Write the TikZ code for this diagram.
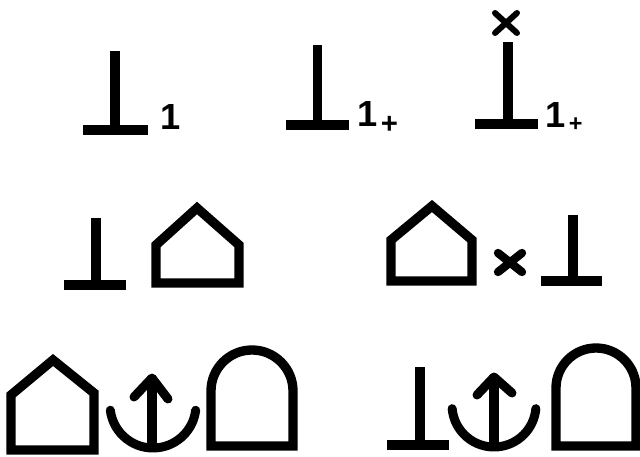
\documentclass[tikz,border=0pt]{standalone}
\usepackage{fontspec}
\setsansfont{Liberation Sans}
\usetikzlibrary{positioning}
\tikzset{
  stroke/.style={line width=0.28cm, line cap=butt, line join=miter},
  crossline/.style={line width=0.18cm, line cap=round},
  anchorline/.style={line width=0.27cm, line cap=round, line join=round},
  lab/.style={font=\sffamily\bfseries\fontsize{31}{31}\selectfont, inner sep=0pt, anchor=base west}
}

\begin{document}
\begin{tikzpicture}[x=0.03cm, y=-0.03cm]
    \clip (0,0) rectangle (640,457);
    \fill[white] (0,0) rectangle (640,457);

    % row 1: perp with label 1
    \draw[stroke] (115,51) -- (115,130);
    \draw[stroke] (83,130) -- (148,130);
    \node[lab] (lone) at (160,130) {1};

    % row 1: perp with label 1+
    \draw[stroke] (317.5,45) -- (317.5,125);
    \draw[stroke] (286,125) -- (349,125);
    \node[lab] (ltwo) at (357,127) {1\kern3pt\raisebox{-0.2cm}{\fontsize{25}{25}\selectfont +}};

    % row 1: perp with cross on top and label 1+
    \draw[crossline] (495,13) -- (517,33);
    \draw[crossline] (495,33) -- (517,13);
    \draw[stroke] (508,42) -- (508,124);
    \draw[stroke] (475,124) -- (538,124);
    \node[lab] (lthree) at (545,128) {1\kern3pt\raisebox{-0.12cm}{\fontsize{20}{20}\selectfont +}};

    % row 2: perp and house
    \draw[stroke] (96,218) -- (96,285);
    \draw[stroke] (64,285) -- (126,285);
    \draw[stroke] (156,283) -- (156,245) -- (197,208) -- (239,245) -- (239,283) -- cycle;

    % row 2: house, cross, perp
    \draw[stroke] (391,281) -- (391,240) -- (432,206) -- (472,240) -- (472,281) -- cycle;
    \draw[crossline, line width=0.25cm] (498,253) -- (522,272);
    \draw[crossline, line width=0.25cm] (498,272) -- (522,253);
    \draw[stroke] (573,215) -- (573,281);
    \draw[stroke] (541,281) -- (602,281);

    % row 3: house, anchor, arch
    \draw[stroke] (11,450) -- (11,395) -- (53,360) -- (94,393) -- (94,450) -- cycle;
    \draw[anchorline] (153,405) ++(173:43) arc (173:7:43);
    \draw[stroke] (152,449) -- (152,380);
    \draw[anchorline] (134,397) -- (152,378) -- (168,399);
    \draw[stroke] (211,446) -- (211,391) arc (180:360:41) -- (293,446) -- cycle;

    % row 3: perp, anchor, arch
    \draw[stroke] (420,367) -- (420,445);
    \draw[stroke] (387,445) -- (449,445);
    \draw[anchorline] (494,405) ++(175:42) arc (175:5:42);
    \draw[stroke] (494,447) -- (494,379);
    \draw[anchorline] (477,395) -- (494,377) -- (512,393);
    \draw[stroke] (556,446) -- (556,388) arc (180:360:40) -- (636,446) -- cycle;
\end{tikzpicture}
\end{document}
